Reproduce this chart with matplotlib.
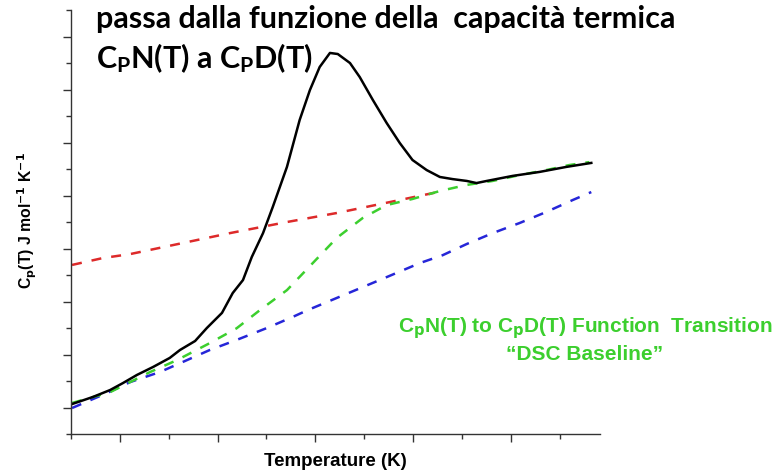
import numpy as np
import matplotlib
matplotlib.use("Agg")
import matplotlib.pyplot as plt
from matplotlib.ticker import MultipleLocator

plt.rcParams['mathtext.fontset'] = 'custom'
plt.rcParams['mathtext.rm'] = 'Lato:bold'
plt.rcParams['mathtext.it'] = 'Lato:bold'
plt.rcParams['mathtext.bf'] = 'Lato:bold'

t_meas = [0.02, 0.45, 0.80, 1.06, 1.35, 1.68, 2.02, 2.23, 2.54, 2.78, 3.09, 3.31,
          3.52, 3.70, 3.93, 4.13, 4.42, 4.68, 4.89, 5.09, 5.30, 5.46, 5.71, 5.91,
          6.18, 6.46, 6.73, 6.99, 7.28, 7.55, 7.81, 8.10, 8.30, 8.51, 9.04, 9.59,
          10.14, 10.65]
cp_meas = [1.13, 1.40, 1.66, 1.92, 2.23, 2.53, 2.87, 3.17, 3.51, 4.00, 4.57, 5.32,
           5.81, 6.68, 7.58, 8.57, 10.08, 11.85, 12.98, 13.85, 14.38, 14.34, 14.00,
           13.47, 12.60, 11.74, 10.98, 10.34, 9.96, 9.70, 9.62, 9.55, 9.47, 9.55,
           9.74, 9.89, 10.08, 10.23]

# DSC baseline (CpN -> CpD transition)
t_base = [0.02, 0.80, 1.62, 2.17, 2.84, 3.39, 3.87, 4.42, 4.85, 5.44, 5.97, 6.46,
          6.99, 7.55, 8.10, 8.63, 9.18, 9.73, 10.20, 10.61]
cp_base = [1.17, 1.58, 2.34, 2.79, 3.43, 3.99, 4.68, 5.43, 6.26, 7.40, 8.15, 8.64,
           8.87, 9.17, 9.40, 9.55, 9.77, 9.96, 10.15, 10.26]

# denatured state CpD(T)
t_den = [0.02, 0.65, 1.21, 3.25, 4.42, 5.44, 6.52, 7.61]
cp_den = [6.38, 6.64, 6.79, 7.58, 8.00, 8.34, 8.75, 9.17]

# native state CpN(T)
t_nat = [0.02, 0.74, 1.21, 1.82, 2.29, 2.84, 3.39, 4.01, 4.54, 4.85, 6.46, 7.14,
         7.61, 8.10, 8.63, 9.18, 9.73, 10.27, 10.65]
cp_nat = [0.98, 1.55, 1.96, 2.34, 2.72, 3.17, 3.55, 4.00, 4.42, 4.68, 5.92, 6.45,
          6.75, 7.17, 7.58, 7.96, 8.38, 8.83, 9.13]

fig = plt.figure(figsize=(7.84, 4.75), dpi=100)
ax = fig.add_axes([0.0906, 0.0863, 0.6742, 0.8926])

ax.plot(t_den, cp_den, color='#dd2a2a', lw=1.8, dashes=(4, 4))
ax.plot(t_nat, cp_nat, color='#2626d8', lw=1.8, dashes=(4, 4))
ax.plot(t_base, cp_base, color='#3ccf2e', lw=1.8, dashes=(4, 4))
ax.plot(t_meas, cp_meas, color='black', lw=1.8)

ax.set_xlim(0, 10.82)
ax.set_ylim(0, 16)
for s in ['top', 'right']:
    ax.spines[s].set_visible(False)
for s in ['left', 'bottom']:
    ax.spines[s].set_color('#333333')
    ax.spines[s].set_linewidth(1.0)

ax.xaxis.set_major_locator(MultipleLocator(2, offset=1))
ax.xaxis.set_minor_locator(MultipleLocator(2))
ax.yaxis.set_major_locator(MultipleLocator(2, offset=1))
ax.yaxis.set_minor_locator(MultipleLocator(2))
ax.tick_params(which='major', length=6, width=1.0, color='#333333',
               labelbottom=False, labelleft=False)
ax.tick_params(which='minor', length=3.5, width=1.0, color='#333333')

# axis labels placed as figure text
fig.text(335 / 784, 1 - 462 / 475, 'Temperature (K)', fontsize=13.5,
         fontweight='bold', family='Liberation Sans', ha='center', va='center')
fig.text(27 / 784, 1 - 220 / 475,
         r'C$_\mathbf{p}$(T) J mol$^\mathbf{-1}$ K$^\mathbf{-1}$', fontsize=11.3,
         fontweight='bold', family='Liberation Sans', rotation=90,
         ha='center', va='center', math_fontfamily='dejavusans')

fig.text(96 / 784, 1 - 19 / 475, 'passa dalla funzione della  capacità termica',
         fontsize=22, fontweight='bold', family='Lato', va='center', ha='left')
fig.text(96 / 784, 1 - 58 / 475, r'C$_\mathrm{P}$N(T) a C$_\mathrm{P}$D(T)',
         fontsize=22, fontweight='bold', family='Lato', va='center', ha='left',
         math_fontfamily='custom')

fig.text(585 / 784, 1 - 328 / 475,
         r'C$_\mathbf{p}$N(T) to C$_\mathbf{p}$D(T) Function  Transition',
         fontsize=15, fontweight='bold', family='Liberation Sans', color='#3ccf2e',
         va='center', ha='center', math_fontfamily='dejavusans')
fig.text(585 / 784, 1 - 355 / 475, '\u201cDSC Baseline\u201d',
         fontsize=15, fontweight='bold', family='Liberation Sans', color='#3ccf2e',
         va='center', ha='center')

fig.savefig('out.png', dpi=100)
